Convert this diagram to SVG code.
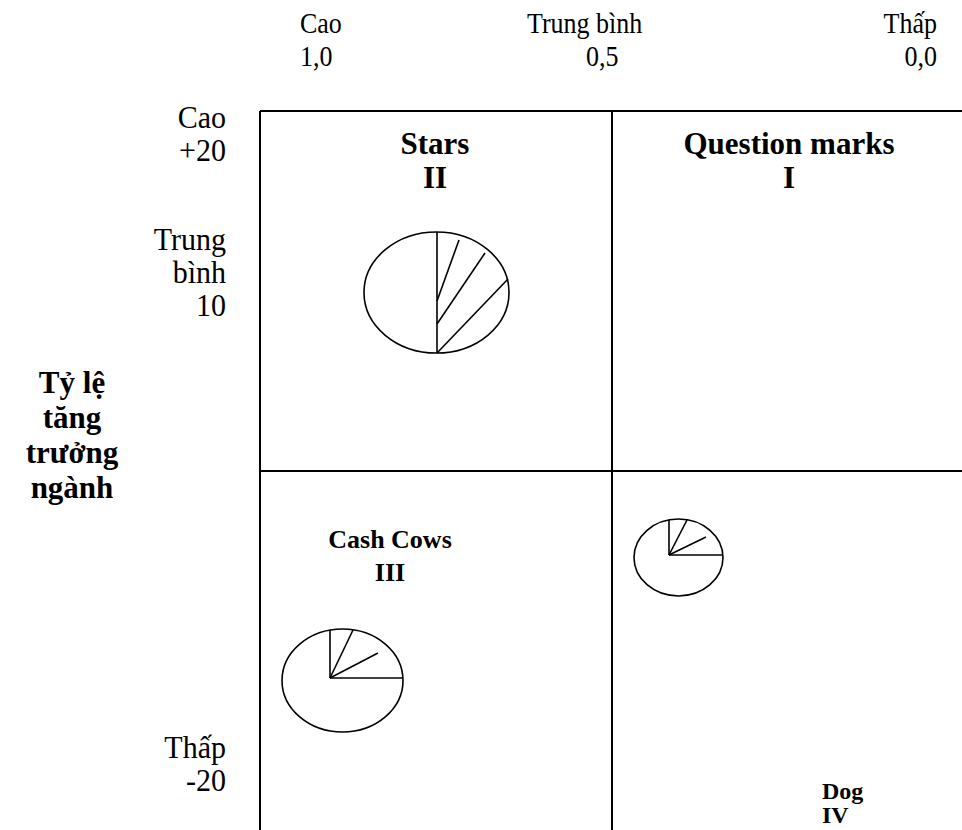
<svg xmlns="http://www.w3.org/2000/svg" width="962" height="830" viewBox="0 0 962 830">
  <style>
    .lbl { font-family: "Liberation Serif", "Times New Roman", serif; font-size: 26px; fill: #000; }
    .side { font-size: 30px; }
    .big { font-size: 31px; }
    .title { font-size: 31px; }
    .small { font-size: 24px; }
    .bold { font-weight: bold; }
    .mid { text-anchor: middle; }
    .end { text-anchor: end; }
    .frame { stroke: #000; stroke-width: 2; fill: none; }
    .pie { stroke: #000; stroke-width: 1.6; fill: none; }
  </style>
  <rect width="962" height="830" fill="#fff"/>

  <!-- market share axis (top); glyphs stretched 1.12 vertically from the baseline -->
  <g id="axis-top">
    <text class="lbl" transform="matrix(1 0 0 1.12 300 33)">Cao</text>
    <text class="lbl" transform="matrix(1 0 0 1.12 300 66)">1,0</text>
    <text class="lbl" transform="matrix(1 0 0 1.12 527 33)">Trung bình</text>
    <text class="lbl" transform="matrix(1 0 0 1.12 586 66)">0,5</text>
    <text class="lbl end" transform="matrix(1 0 0 1.12 937 33)">Thấp</text>
    <text class="lbl end" transform="matrix(1 0 0 1.12 937 66)">0,0</text>
  </g>

  <!-- growth axis (left) -->
  <g id="axis-left">
    <text class="lbl side end" transform="matrix(1 0 0 1.08 226 128)">Cao</text>
    <text class="lbl side end" transform="matrix(1 0 0 1.08 226 161)">+20</text>
    <text class="lbl side end" transform="matrix(1 0 0 1.08 226 250)">Trung</text>
    <text class="lbl side end" transform="matrix(1 0 0 1.08 226 283)">bình</text>
    <text class="lbl side end" transform="matrix(1 0 0 1.08 226 316)">10</text>
    <text class="lbl side end" transform="matrix(1 0 0 1.08 226 758)">Thấp</text>
    <text class="lbl side end" transform="matrix(1 0 0 1.08 226 791)">-20</text>
  </g>

  <g id="axis-title">
    <text class="lbl title bold mid" x="72" y="393">Tỷ lệ</text>
    <text class="lbl title bold mid" x="72" y="428">tăng</text>
    <text class="lbl title bold mid" x="72" y="463">trưởng</text>
    <text class="lbl title bold mid" x="72" y="498">ngành</text>
  </g>

  <!-- matrix frame -->
  <g id="connectors">
    <line class="frame" x1="260" y1="111" x2="962" y2="111"/>
    <line class="frame" x1="260" y1="111" x2="260" y2="830"/>
    <line class="frame" x1="612" y1="111" x2="612" y2="830"/>
    <line class="frame" x1="260" y1="471" x2="962" y2="471"/>
  </g>

  <g id="stars">
    <text class="lbl big bold mid" x="435" y="154">Stars</text>
    <text class="lbl big bold mid" x="435" y="188">II</text>
    <ellipse class="pie" cx="436.5" cy="292.5" rx="72.5" ry="60.5"/>
    <line class="pie" x1="437" y1="232" x2="437" y2="353"/>
    <line class="pie" x1="437" y1="353" x2="508" y2="279"/>
    <line class="pie" x1="437" y1="324" x2="485" y2="253"/>
    <line class="pie" x1="437" y1="301" x2="459" y2="240"/>
  </g>

  <g id="question-marks">
    <text class="lbl big bold mid" x="789" y="154">Question marks</text>
    <text class="lbl big bold mid" x="789" y="188">I</text>
  </g>

  <g id="cash-cows">
    <text class="lbl bold mid" x="390" y="548">Cash Cows</text>
    <text class="lbl bold mid" x="390" y="581">III</text>
    <ellipse class="pie" cx="342.5" cy="680.5" rx="60.5" ry="51.5"/>
    <line class="pie" x1="330" y1="678" x2="330" y2="630"/>
    <line class="pie" x1="330" y1="678" x2="403" y2="678"/>
    <line class="pie" x1="330" y1="678" x2="353" y2="630"/>
    <line class="pie" x1="330" y1="678" x2="378" y2="653"/>
  </g>

  <g id="dog">
    <text class="lbl small bold" x="822" y="799">Dog</text>
    <text class="lbl small bold" x="822" y="823">IV</text>
    <ellipse class="pie" cx="678.5" cy="557.5" rx="44.5" ry="38.5"/>
    <line class="pie" x1="669" y1="555" x2="669" y2="520"/>
    <line class="pie" x1="669" y1="555" x2="723" y2="555"/>
    <line class="pie" x1="669" y1="555" x2="687" y2="520"/>
    <line class="pie" x1="669" y1="555" x2="706" y2="537"/>
  </g>
</svg>
